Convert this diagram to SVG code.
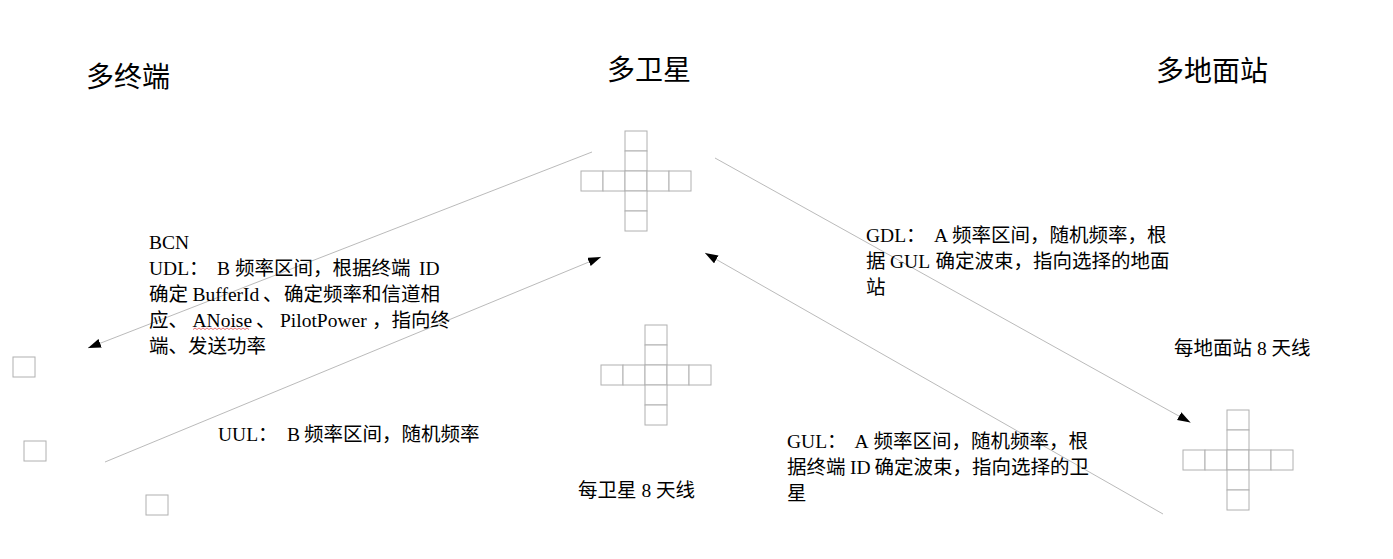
<svg xmlns="http://www.w3.org/2000/svg" width="1393" height="559" viewBox="0 0 1393 559">
<style>
.title{font-family:"Noto Sans CJK SC","Liberation Serif",serif;font-size:28px;fill:#000}
.t{font-family:"Liberation Serif","Noto Sans CJK SC",serif;font-size:19.5px;fill:#000}
.cell{fill:#fff;stroke:#b0b0b0;stroke-width:1}
.link{stroke:#a8a8a8;stroke-width:0.8;fill:none;marker-end:url(#arr)}
</style>
<defs>
<marker id="arr" markerUnits="userSpaceOnUse" markerWidth="14" markerHeight="10" refX="13" refY="4.5" orient="auto">
<path d="M0,0 L13,4.5 L0,9 Z" fill="#000"/>
</marker>
<g id="crossShape">
<rect class="cell" x="44" y="0" width="22" height="20"/>
<rect class="cell" x="44" y="20" width="22" height="20"/>
<rect class="cell" x="0" y="40" width="22" height="20"/>
<rect class="cell" x="22" y="40" width="22" height="20"/>
<rect class="cell" x="44" y="40" width="22" height="20"/>
<rect class="cell" x="66" y="40" width="22" height="20"/>
<rect class="cell" x="88" y="40" width="22" height="20"/>
<rect class="cell" x="44" y="60" width="22" height="20"/>
<rect class="cell" x="44" y="80" width="22" height="20"/>
</g>
</defs>
<rect width="1393" height="559" fill="#fff"/>

<g id="titles">
<text class="title" x="86" y="87">多终端</text>
<text class="title" x="607" y="80">多卫星</text>
<text class="title" x="1156" y="81">多地面站</text>
</g>

<g id="satellite-antenna-1"><use href="#crossShape" x="581" y="131"/></g>
<g id="satellite-antenna-2"><use href="#crossShape" x="601" y="325"/></g>
<g id="ground-antenna"><use href="#crossShape" x="1183" y="410"/></g>

<g id="terminals">
<rect class="cell" x="13" y="357" width="22" height="20"/>
<rect class="cell" x="24" y="441" width="22" height="20"/>
<rect class="cell" x="146" y="495" width="22" height="20"/>
</g>

<g id="connectors">
<line class="link" x1="592" y1="152" x2="88" y2="348"/>
<line class="link" x1="105" y1="462" x2="601" y2="257"/>
<line class="link" x1="715" y1="158" x2="1190.5" y2="422.5"/>
<line class="link" x1="1163" y1="514" x2="705" y2="253"/>
</g>

<g id="label-udl">
<text class="t" x="149" y="249">BCN</text>
<text class="t" y="275"><tspan x="149">UDL：</tspan><tspan x="217">B</tspan><tspan x="235">频率区间，根据终端</tspan><tspan x="419">ID</tspan></text>
<text class="t" y="301"><tspan x="149">确定</tspan><tspan x="192.5">BufferId</tspan><tspan x="263">、</tspan><tspan x="284">确定频率和信道相</tspan></text>
<text class="t" y="327"><tspan x="149">应、</tspan><tspan x="192.5">ANoise</tspan><tspan x="256">、</tspan><tspan x="280">PilotPower</tspan><tspan x="372">，指向终</tspan></text>
<text class="t" x="149" y="353">端、发送功率</text>
<path d="M193,329.5 l2,-1.5 l2,1.5 l2,-1.5 l2,1.5 l2,-1.5 l2,1.5 l2,-1.5 l2,1.5 l2,-1.5 l2,1.5 l2,-1.5 l2,1.5 l2,-1.5 l2,1.5 l2,-1.5 l2,1.5 l2,-1.5 l2,1.5 l2,-1.5 l2,1.5 l2,-1.5 l2,1.5 l2,-1.5 l2,1.5 l2,-1.5 l2,1.5 l2,-1.5 l2,1.5" fill="none" stroke="#e05050" stroke-width="0.8"/>
</g>

<g id="label-uul">
<text class="t" y="440.5"><tspan x="218">UUL：</tspan><tspan x="287">B</tspan><tspan x="304">频率区间，随机频率</tspan></text>
</g>

<g id="label-gdl">
<text class="t" y="242"><tspan x="866">GDL：</tspan><tspan x="934">A</tspan><tspan x="952">频率区间，随机频率，根</tspan></text>
<text class="t" y="268"><tspan x="866">据</tspan><tspan x="890">GUL</tspan><tspan x="935.5">确定波束，指向选择的地面</tspan></text>
<text class="t" x="866" y="294">站</text>
</g>

<g id="label-gul">
<text class="t" y="447.5"><tspan x="787">GUL：</tspan><tspan x="854.5">A</tspan><tspan x="873.5">频率区间，随机频率，根</tspan></text>
<text class="t" y="473.5"><tspan x="787">据终端</tspan><tspan x="850">ID</tspan><tspan x="874.5">确定波束，指向选择的卫</tspan></text>
<text class="t" x="787" y="499.5">星</text>
</g>

<g id="label-sat-antennas">
<text class="t" x="578" y="497">每卫星 8 天线</text>
</g>
<g id="label-ground-antennas">
<text class="t" x="1174" y="355">每地面站 8 天线</text>
</g>
</svg>
